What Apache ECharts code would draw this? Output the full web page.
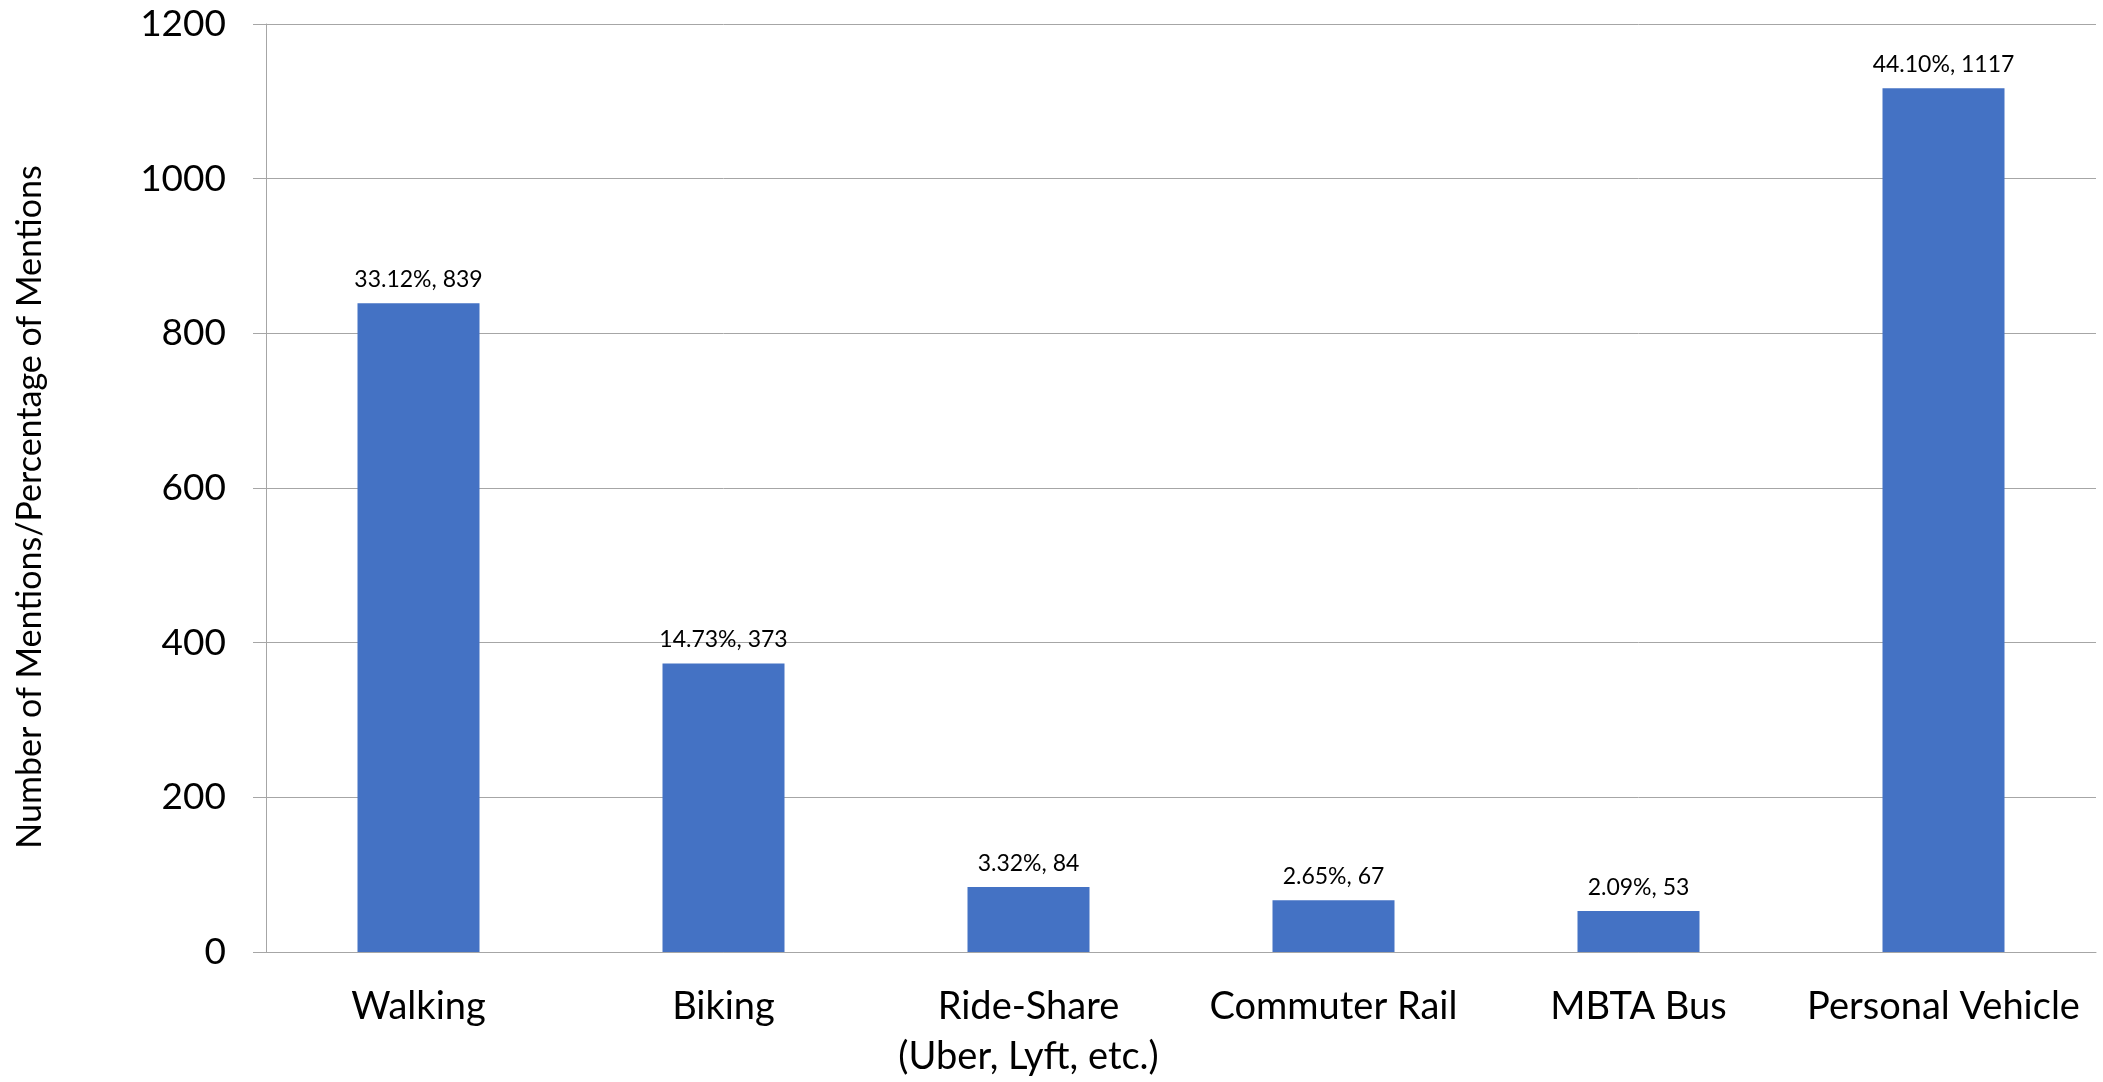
<!DOCTYPE html>
<html>
<head>
<meta charset="utf-8">
<script src="https://cdn.jsdelivr.net/npm/echarts@6/dist/echarts.min.js"></script>
<style>
  html, body { margin: 0; padding: 0; background: #ffffff; }
  #chart { width: 2103px; height: 1082px; }
</style>
</head>
<body>
<div id="chart"></div>
<script>
var categories = ['Walking', 'Biking', 'Ride-Share\n(Uber, Lyft, etc.)', 'Commuter Rail', 'MBTA Bus', 'Personal Vehicle'];
var mentions = [839, 373, 84, 67, 53, 1117];
var percents = ['33.12%', '14.73%', '3.32%', '2.65%', '2.09%', '44.10%'];
var yTicks = [0, 1200, 200]; // min, max, interval

var font = 'Lato';
var chart = echarts.init(document.getElementById('chart'), null, { renderer: 'canvas' });

var option = {
  backgroundColor: '#ffffff',
  animation: false,
  grid: {
    left: 266,
    right: 7,
    top: 24,
    bottom: 129
  },
  xAxis: {
    type: 'category',
    data: categories,
    axisLine: { lineStyle: { color: '#a6a6a6', width: 1 } },
    axisTick: { length: 14, lineStyle: { color: '#a6a6a6' } },
    axisLabel: {
      color: '#000000',
      fontFamily: font,
      fontSize: 38,
      lineHeight: 50,
      margin: 30,
      interval: 0
    }
  },
  yAxis: {
    type: 'value',
    min: yTicks[0],
    max: yTicks[1],
    interval: yTicks[2],
    name: 'Number of Mentions/Percentage of Mentions',
    nameLocation: 'middle',
    nameGap: 219,
    nameTextStyle: {
      color: '#000000',
      fontFamily: font,
      fontSize: 34,
      padding: [0, 38, 0, 0]
    },
    axisLine: { show: true, lineStyle: { color: '#a6a6a6', width: 1 } },
    axisTick: { show: true, length: 13, lineStyle: { color: '#a6a6a6' } },
    splitLine: { lineStyle: { color: '#a6a6a6', width: 1 } },
    axisLabel: {
      color: '#000000',
      fontFamily: font,
      fontSize: 37,
      margin: 40,
      formatter: function (v) { return String(v); }
    }
  },
  series: [{
    type: 'bar',
    data: mentions,
    barCategoryGap: '60%',
    itemStyle: { color: '#4472c4' },
    label: {
      show: true,
      position: 'top',
      distance: 12,
      color: '#000000',
      fontFamily: font,
      fontSize: 23,
      formatter: function (p) {
        return percents[p.dataIndex] + ', ' + p.value;
      }
    }
  }]
};

chart.setOption(option);
</script>
</body>
</html>
